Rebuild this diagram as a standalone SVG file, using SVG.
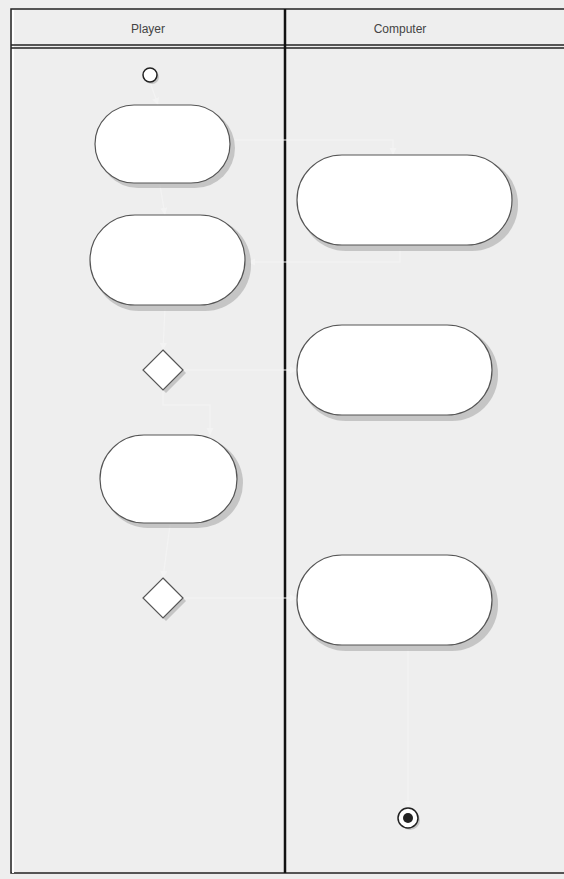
<svg xmlns="http://www.w3.org/2000/svg" width="564" height="879" viewBox="0 0 564 879">
<style>
.bg{fill:#eeeeee}
.hdr{font-family:"Liberation Sans",Arial,sans-serif;font-size:12px;fill:#444;text-anchor:middle}
.node{fill:#ffffff;stroke:#555;stroke-width:1.2}
.shadow{fill:#aaaaaa;opacity:0.6}
.conn{fill:none;stroke:#f3f3f3;stroke-width:1.2}
</style>
<defs>
<marker id="arr" viewBox="0 0 10 10" refX="10" refY="5" markerWidth="6" markerHeight="6" orient="auto"><path d="M0,0 L10,5 L0,10 z" fill="#f3f3f3"/></marker>
</defs>
<rect class="bg" x="0" y="0" width="564" height="879"/>
<g id="lanes">
<rect x="11" y="9" width="570" height="864" fill="#eeeeee" stroke="#222" stroke-width="1.5"/>
<line x1="13" y1="10" x2="13" y2="873" stroke="#fff" stroke-width="2"/>
<line x1="11" y1="45" x2="564" y2="45" stroke="#222" stroke-width="1.5"/>
<line x1="11" y1="48" x2="564" y2="48" stroke="#222" stroke-width="1.5"/>
<line x1="285" y1="9" x2="285" y2="873" stroke="#111" stroke-width="2.5"/>
<text class="hdr" x="148" y="33">Player</text>
<text class="hdr" x="400" y="33">Computer</text>
</g>
<g id="connectors">
<line class="conn" x1="150" y1="82" x2="158" y2="105" marker-end="url(#arr)"/>
<line class="conn" x1="160" y1="185" x2="165" y2="215" marker-end="url(#arr)"/>
<path class="conn" d="M232,140 L393,140 L393,155" marker-end="url(#arr)"/>
<path class="conn" d="M400,248 L400,262 L248,262" marker-end="url(#arr)"/>
<line class="conn" x1="165" y1="308" x2="163" y2="350" marker-end="url(#arr)"/>
<path class="conn" d="M183,370 L297,370" marker-end="url(#arr)"/>
<path class="conn" d="M163,390 L163,405 L210,405 L210,435" marker-end="url(#arr)"/>
<line class="conn" x1="170" y1="525" x2="163" y2="578" marker-end="url(#arr)"/>
<path class="conn" d="M183,598 L297,598" marker-end="url(#arr)"/>
<path class="conn" d="M408,648 L408,808" marker-end="url(#arr)"/>
</g>
<g id="start">
<circle cx="152" cy="77" r="7" class="shadow"/>
<circle cx="150" cy="75" r="7" fill="#fff" stroke="#222" stroke-width="1.5"/>
</g>
<g id="action1">
<rect x="98" y="108" width="137" height="80" rx="40" class="shadow"/>
<rect x="95" y="105" width="135" height="78" rx="39" class="node"/>
</g>
<g id="action2">
<rect x="93" y="218" width="158" height="93" rx="46" class="shadow"/>
<rect x="90" y="215" width="155" height="90" rx="45" class="node"/>
</g>
<g id="decision1">
<path d="M166,353 L186,373 L166,393 L146,373 z" class="shadow"/>
<path d="M163,350 L183,370 L163,390 L143,370 z" class="node"/>
</g>
<g id="action3">
<rect x="103" y="438" width="140" height="90" rx="45" class="shadow"/>
<rect x="100" y="435" width="137" height="88" rx="44" class="node"/>
</g>
<g id="decision2">
<path d="M166,581 L186,601 L166,621 L146,601 z" class="shadow"/>
<path d="M163,578 L183,598 L163,618 L143,598 z" class="node"/>
</g>
<g id="actionA">
<rect x="300" y="158" width="218" height="93" rx="46" class="shadow"/>
<rect x="297" y="155" width="215" height="90" rx="45" class="node"/>
</g>
<g id="actionB">
<rect x="300" y="328" width="198" height="93" rx="46" class="shadow"/>
<rect x="297" y="325" width="195" height="90" rx="45" class="node"/>
</g>
<g id="actionC">
<rect x="300" y="558" width="198" height="93" rx="46" class="shadow"/>
<rect x="297" y="555" width="195" height="90" rx="45" class="node"/>
</g>
<g id="end">
<circle cx="410" cy="820" r="10" class="shadow"/>
<circle cx="408" cy="818" r="10" fill="#fff" stroke="#222" stroke-width="1.5"/>
<circle cx="408" cy="818" r="5" fill="#222"/>
</g>
</svg>
